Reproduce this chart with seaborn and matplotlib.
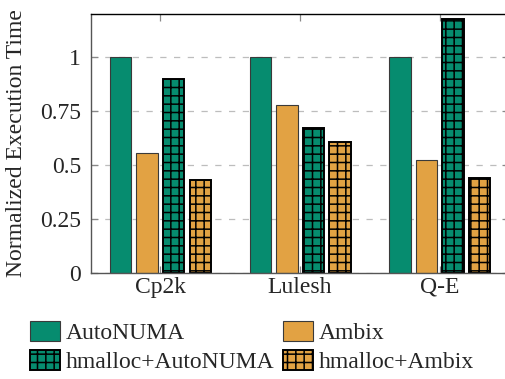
import matplotlib
matplotlib.use("Agg")
import matplotlib.pyplot as plt
import seaborn as sns
import pandas as pd

# Benchmarks and configurations
benchmarks = ["Cp2k", "Lulesh", "Q-E"]
configs = ["AutoNUMA", "Ambix", "hmalloc+AutoNUMA", "hmalloc+Ambix"]

# Normalized execution time per configuration (one value per benchmark)
autonuma = [1.0, 1.0, 1.0]
ambix = [0.555, 0.778, 0.522]
hmalloc_autonuma = [0.899, 0.673, 1.175]
hmalloc_ambix = [0.430, 0.606, 0.437]

yticks = [0, 0.25, 0.5, 0.75, 1]
ytick_labels = ["0", "0.25", "0.5", "0.75", "1"]

green = "#068C6F"
orange = "#E2A243"
FS = 17

sns.set_style("white")
plt.rcParams["font.family"] = ["Liberation Serif", "DejaVu Serif"]
plt.rcParams["hatch.linewidth"] = 1.1
plt.rcParams["hatch.color"] = "black"

rows = []
for cfg, vals in zip(configs, [autonuma, ambix, hmalloc_autonuma, hmalloc_ambix]):
    for b, v in zip(benchmarks, vals):
        rows.append({"benchmark": b, "config": cfg, "time": v})
df = pd.DataFrame(rows)

fig = plt.figure(figsize=(5.05, 3.79), dpi=100)
ax = fig.add_axes([0.1796, 0.281, 0.829, 0.682])

sns.barplot(data=df, x="benchmark", y="time", hue="config", hue_order=configs,
            order=benchmarks, palette=[green, orange, green, orange],
            width=0.76, gap=0.19, saturation=1, legend=False, ax=ax,
            edgecolor="#3a3a3a", linewidth=0.8)

for i, cont in enumerate(ax.containers):
    if i >= 2:
        for p in cont.patches:
            p.set_hatch("++")
            p.set_edgecolor("black")
            p.set_linewidth(1.4)

ax.set_xlim(-0.5, 2.5)
ax.set_ylim(0, 1.2)
ax.set_yticks(yticks)
ax.set_yticklabels(ytick_labels)
ax.set_xlabel("")
ax.set_ylabel("Normalized Execution Time", fontsize=FS)
ax.yaxis.set_label_coords(-0.152, 0.5)

ax.set_axisbelow(True)
ax.yaxis.grid(True, color="#bdbdbd", linestyle=(0, (5, 6)), linewidth=0.9)
ax.xaxis.grid(False)

ax.tick_params(axis="both", which="both", direction="in", length=5,
               color="#888888", width=0.9, labelsize=FS,
               top=True, right=True, bottom=True, left=True)
ax.tick_params(axis="y", pad=7)
ax.tick_params(axis="x", pad=3)

for side in ["left", "bottom", "right"]:
    ax.spines[side].set_color("#555555")
    ax.spines[side].set_linewidth(1.0)
ax.spines["top"].set_color("black")
ax.spines["top"].set_linewidth(1.0)

# Legend laid out row-wise: plain bars on top, hmalloc variants below
c = ax.containers
handles = [c[0], c[2], c[1], c[3]]
labels = [configs[0], configs[2], configs[1], configs[3]]
fig.legend(handles, labels, loc="upper left", bbox_to_anchor=(0.06, 0.153),
           ncol=2, frameon=False, fontsize=FS,
           handlelength=1.27, handleheight=0.93, handletextpad=0.25,
           columnspacing=0.34, labelspacing=0.26, borderaxespad=0, borderpad=0)

fig.savefig("out.png", dpi=100)
